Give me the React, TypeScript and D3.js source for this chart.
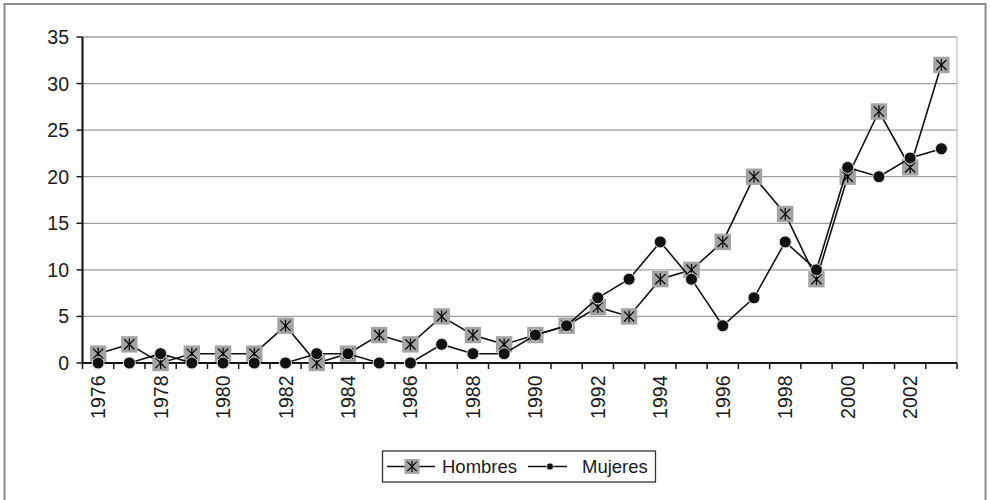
import React from "react";
import * as d3 from "d3";

const years: number[] = [1976,1977,1978,1979,1980,1981,1982,1983,1984,1985,1986,1987,1988,1989,1990,1991,1992,1993,1994,1995,1996,1997,1998,1999,2000,2001,2002,2003];
const hombres: number[] = [1,2,0,1,1,1,4,0,1,3,2,5,3,2,3,4,6,5,9,10,13,20,16,9,20,27,21,32];
const mujeres: number[] = [0,0,1,0,0,0,0,1,1,0,0,2,1,1,3,4,7,9,13,9,4,7,13,10,21,20,22,23];
const yTicks: number[] = [0,5,10,15,20,25,30,35];
const seriesNames: string[] = ["Hombres", "Mujeres"];

const W = 990, H = 500;
const L = 82.5, R = 957, T = 37, B = 363;
const FONT = "Liberation Sans, Arial, sans-serif";

function Star({ cx, cy, s }: { cx: number; cy: number; s: number }) {
  return (
    <g stroke="#000" strokeWidth={1.2}>
      <rect x={cx - s} y={cy - s} width={2 * s} height={2 * s} fill="#a3a3a3" stroke="none" />
      <line x1={cx} y1={cy - s * 0.72} x2={cx} y2={cy + s * 0.72} />
      <line x1={cx - s * 0.62} y1={cy - s * 0.62} x2={cx + s * 0.62} y2={cy + s * 0.62} />
      <line x1={cx - s * 0.62} y1={cy + s * 0.62} x2={cx + s * 0.62} y2={cy - s * 0.62} />
    </g>
  );
}

export default function App() {
  const x = d3.scaleBand<number>().domain(years).range([L, R]).padding(0);
  const y = d3.scaleLinear().domain([0, 35]).range([B, T]);
  const cx = (yr: number) => (x(yr) as number) + x.bandwidth() / 2;
  const line = d3.line<number>().x((_, i) => cx(years[i])).y((v) => y(v));
  const boundaries = years.map((yr) => x(yr) as number).concat([R]);

  return (
    <div style={{ position: "absolute", left: 0, top: 0 }}>
      <svg width={W} height={H} style={{ display: "block", background: "#fff" }}>
        <rect x={4.5} y={4} width={981} height={520} fill="#fff" stroke="#8c8c8c" strokeWidth={2} />
        {yTicks.filter((t) => t > 0).map((t) => (
          <line key={t} x1={L} x2={R} y1={y(t)} y2={y(t)} stroke="#a0a0a0" strokeWidth={1.3} />
        ))}
        <line x1={R} x2={R} y1={T} y2={B} stroke="#c0c0c0" strokeWidth={1.3} />
        <line x1={L} x2={L} y1={T} y2={B} stroke="#1a1a1a" strokeWidth={2.2} />
        {yTicks.map((t) => (
          <g key={t}>
            <line x1={L - 6} x2={L} y1={y(t)} y2={y(t)} stroke="#1a1a1a" strokeWidth={1.5} />
            <text x={69} y={y(t)} dy="0.36em" textAnchor="end" fontFamily={FONT} fontSize={19.5} fill="#1a1a1a">{t}</text>
          </g>
        ))}
        <line x1={L} x2={R} y1={B} y2={B} stroke="#1a1a1a" strokeWidth={2.2} />
        {boundaries.map((bx, i) => (
          <line key={i} x1={bx} x2={bx} y1={B} y2={B + 6} stroke="#1a1a1a" strokeWidth={1.5} />
        ))}
        {years.filter((_, i) => i % 2 === 0).map((yr) => (
          <text key={yr} transform={`translate(${cx(yr)},${375.5}) rotate(-90)`} dy="0.36em" textAnchor="end" fontFamily={FONT} fontSize={19.5} fill="#1a1a1a">{yr}</text>
        ))}
        <path d={line(hombres) as string} fill="none" stroke="#111" strokeWidth={1.6} />
        {hombres.map((v, i) => (
          <Star key={i} cx={cx(years[i])} cy={y(v)} s={8.2} />
        ))}
        <path d={line(mujeres) as string} fill="none" stroke="#111" strokeWidth={1.6} />
        {mujeres.map((v, i) => (
          <circle key={i} cx={cx(years[i])} cy={y(v)} r={6} fill="#111" stroke="#e0e0e0" strokeWidth={1} />
        ))}
        <rect x={382.5} y={451} width={273} height={31} fill="#fff" stroke="#333" strokeWidth={1.3} />
        <line x1={387} x2={435} y1={466.5} y2={466.5} stroke="#111" strokeWidth={1.5} />
        <Star cx={412} cy={466.5} s={7.5} />
        <text x={442} y={466.5} dy="0.36em" fontFamily={FONT} fontSize={18.5} fill="#1a1a1a">{seriesNames[0]}</text>
        <line x1={528} x2={567} y1={466.5} y2={466.5} stroke="#111" strokeWidth={1.5} />
        <circle cx={550} cy={466.5} r={3.5} fill="#111" stroke="#e0e0e0" strokeWidth={0.8} />
        <text x={582} y={466.5} dy="0.36em" fontFamily={FONT} fontSize={18.5} fill="#1a1a1a">{seriesNames[1]}</text>
      </svg>
    </div>
  );
}
